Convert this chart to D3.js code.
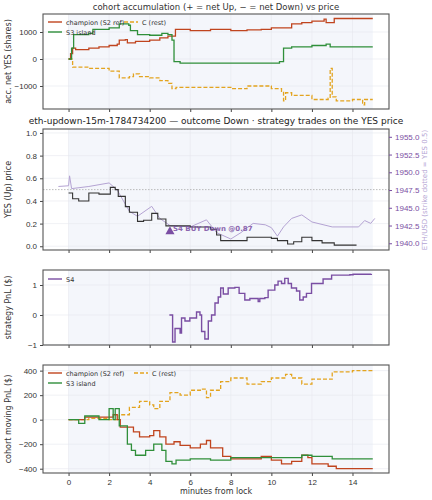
<!DOCTYPE html><html><head><meta charset="utf-8">
<script src="https://cdn.jsdelivr.net/npm/d3@7"></script>
<style>body{margin:0;background:#fff}svg{font-family:"DejaVu Sans",sans-serif}</style></head><body>
<svg id="c" width="432" height="500"></svg>
<script>
const xTicks=[0,2,4,6,8,10,12,14];
const accChampion=[[0,0],[0.1,200],[0.2,400],[0.35,350],[1,400],[1.5,450],[2,500],[2.4,550],[2.5,700],[2.8,720],[2.9,600],[3.3,650],[4,700],[4.5,780],[4.9,850],[5.27,1100],[6,1050],[7,1100],[8,1050],[8.8,1080],[9.5,1100],[10,1150],[11,1300],[11.5,1350],[12,1400],[12.6,1480],[12.7,1350],[13.1,1500],[15,1500]];
const accS3=[[0,0],[0.15,400],[0.25,900],[1,950],[1.2,1100],[2,1150],[2.5,1300],[2.97,1250],[3.05,1050],[3.4,900],[4,880],[4.6,950],[4.9,900],[5.1,700],[5.2,-100],[5.5,-150],[7,-150],[9,-150],[10.4,-100],[10.6,400],[11,450],[12,500],[12.7,550],[12.9,450],[15,450]];
const accC=[[0,0],[0.2,-300],[1,-350],[2,-450],[2.5,-700],[3,-650],[3.2,-550],[3.5,-650],[4,-700],[4.5,-800],[4.9,-900],[5.1,-1100],[5.3,-1050],[7,-1050],[8,-1100],[8.8,-1000],[10,-1100],[10.5,-1200],[10.6,-1550],[10.7,-1250],[11,-1350],[12,-1500],[12.8,-1450],[12.9,-350],[13,-1400],[13.2,-1550],[14,-1500],[14.5,-1700],[14.6,-1500],[15,-1500]];
const yesPrice=[[0,0.47],[0.2,0.42],[0.5,0.40],[1,0.47],[1.5,0.46],[2.06,0.52],[2.3,0.50],[2.45,0.44],[2.8,0.35],[3,0.30],[3.4,0.22],[3.7,0.23],[4.1,0.29],[4.4,0.24],[4.8,0.18],[5.2,0.18],[6,0.17],[7,0.15],[7.3,0.10],[7.5,0.05],[8.5,0.05],[8.8,0.08],[10,0.07],[10.3,0.05],[10.8,0.02],[11.1,0.04],[11.5,0.08],[12,0.05],[12.5,0.03],[13.1,0.01],[14.2,0.01]];
const ethUsd=[[-0.5,1948],[0,1948.1],[0.05,1949.5],[0.15,1947.7],[1,1948],[2,1948.5],[2.4,1947.5],[3,1944.5],[3.4,1943.8],[4.1,1945.2],[4.5,1943.5],[5,1942.5],[6,1942.3],[6.8,1943.3],[7.3,1941.5],[8,1940.6],[8.5,1941.5],[9.1,1942.8],[9.7,1942.6],[10,1942.2],[10.3,1941],[10.6,1942.3],[11,1943.5],[11.5,1944],[12,1943],[13,1942.3],[14.3,1942.3],[14.6,1943.2],[14.9,1942.8],[15.1,1943.5]];
const trades=[{t:5.0,p:0.13,label:"S4 BUY Down @0.87"}];
const pnlS4=[[4.97,0],[5.13,-0.9],[5.25,-0.45],[5.5,-0.6],[5.57,-0.1],[5.74,-0.2],[5.98,-0.1],[6.31,0.1],[6.48,0],[6.56,-0.55],[6.72,-0.8],[6.89,-0.2],[7.05,0],[7.22,0.4],[7.38,0.6],[7.5,0.9],[7.63,0.7],[7.87,0.9],[8.2,0.92],[8.41,0.72],[8.69,0.5],[8.94,0.55],[9.35,0.45],[9.43,0.55],[9.68,0.58],[9.84,0.83],[10.17,1.0],[10.33,1.13],[10.5,1.05],[10.66,1.22],[10.83,1.05],[10.99,0.9],[11.24,0.8],[11.4,0.5],[11.57,0.6],[11.73,0.72],[11.98,1.05],[12.55,1.2],[12.97,1.33],[13.87,1.34],[14.03,1.36],[14.93,1.37]];
const pnlChampion=[[0,0],[0.8,20],[2,20],[2.2,40],[2.4,0],[2.55,-60],[3.2,-100],[3.5,-140],[4,-130],[4.2,-90],[4.5,-140],[4.8,-200],[5.2,-180],[5.5,-210],[6,-230],[6.5,-200],[6.8,-170],[7,-230],[7.6,-300],[8,-320],[9.5,-300],[10,-330],[10.5,-360],[11,-340],[11.5,-290],[11.8,-310],[12,-360],[12.8,-380],[13.2,-400],[15,-400]];
const pnlS3=[[0,0],[0.5,-30],[0.8,30],[1.5,0],[2,90],[2.2,0],[2.3,90],[2.5,-50],[2.9,-200],[3.1,-250],[3.3,-290],[3.8,-250],[4.2,-200],[4.6,-250],[4.8,-340],[5.1,-360],[5.3,-330],[6,-320],[7,-330],[8,-310],[10,-310],[11.5,-290],[12,-300],[13,-320],[15,-320]];
const pnlC=[[0,0],[1,10],[2,0],[2.5,40],[3,100],[3.5,150],[4,120],[4.2,90],[4.5,150],[5,220],[5.5,200],[6,240],[6.5,250],[6.8,180],[7,240],[7.5,310],[8,340],[8.8,290],[9.5,310],[10,340],[10.7,370],[11,340],[11.5,290],[12,330],[13,390],[14,400],[15,400]];

const C={ch:"#c0441e",s3:"#2f8f3a",c:"#e3a41f",s4:"#7a4ea3",eth:"#b4a3d3"};
const svg=d3.select("#c");
const L=43,R=389;
const x=d3.scaleLinear().domain([-1.26,15.8]).range([L,R]);
const minus=s=>s.replace("-","−");
function panel(top,bot,dom,ticks,ylabel,showX,fmt){
  const y=d3.scaleLinear().domain(dom).range([bot,top]);
  const g=svg.append("g");
  g.append("rect").attr("x",x(0)).attr("width",x(15)-x(0)).attr("y",top).attr("height",bot-top).attr("fill","#f4f6fb");
  xTicks.forEach(t=>g.append("line").attr("x1",x(t)).attr("x2",x(t)).attr("y1",top).attr("y2",bot).attr("stroke","#e6e8ee").attr("stroke-width",0.6));
  ticks.forEach(t=>g.append("line").attr("x1",L).attr("x2",R).attr("y1",y(t)).attr("y2",y(t)).attr("stroke","#e6e8ee").attr("stroke-width",0.6));
  const ax=g.append("g").attr("transform",`translate(${L},0)`).call(d3.axisLeft(y).tickValues(ticks).tickSize(3).tickFormat(d=>minus(d3.format(fmt)(d))));
  const bx=g.append("g").attr("transform",`translate(0,${bot})`).call(d3.axisBottom(x).tickValues(xTicks).tickSize(3).tickFormat(showX?d3.format("d"):""));
  [ax,bx].forEach(a=>{a.select(".domain").remove();a.selectAll("text").attr("font-size",8).attr("fill","#333");a.selectAll("line").attr("stroke","#444")});
  g.append("text").attr("transform",`translate(11,${(top+bot)/2}) rotate(-90)`).attr("text-anchor","middle").attr("font-size",8).attr("fill","#333").text(ylabel);
  svg.append("rect").attr("x",L).attr("y",top).attr("width",R-L).attr("height",bot-top).attr("fill","none").attr("stroke","#555").attr("stroke-width",1.1);
  return {y,g};
}
function line(g,data,y,color,opts={}){
  const gen=d3.line().x(d=>x(d[0])).y(d=>y(d[1])).curve(opts.linear?d3.curveLinear:d3.curveStepAfter);
  g.append("path").attr("d",gen(data)).attr("fill","none").attr("stroke",color).attr("stroke-width",opts.w||1.3).attr("stroke-dasharray",opts.dash||null);
}
function legend(g,items,x0,y0,cols,colW){
  items.forEach((it,i)=>{const cx=x0+(i%cols?colW:0),cy=y0+Math.floor(i/cols)*10;
    g.append("line").attr("x1",cx).attr("x2",cx+14).attr("y1",cy).attr("y2",cy).attr("stroke",it.c).attr("stroke-width",1.4).attr("stroke-dasharray",it.dash||null);
    g.append("text").attr("x",cx+18).attr("y",cy+2.5).attr("font-size",6.5).attr("fill","#333").text(it.l);});
}
// Panel 1
svg.append("text").attr("x",216).attr("y",10).attr("text-anchor","middle").attr("font-size",8.5).attr("fill","#333").text("cohort accumulation (+ = net Up, − = net Down) vs price");
const p1=panel(14,109,[-1852,1667],[-1000,0,1000],"acc. net YES (shares)",false,"d");
line(p1.g,accC,p1.y,C.c,{dash:"4,2"});line(p1.g,accChampion,p1.y,C.ch);line(p1.g,accS3,p1.y,C.s3);
legend(p1.g,[{l:"champion (S2 ref)",c:C.ch},{l:"C (rest)",c:C.c,dash:"4,2"},{l:"S3 island",c:C.s3}],48,22,2,76);
// Panel 2
svg.append("text").attr("x",216).attr("y",124).attr("text-anchor","middle").attr("font-size",9).attr("font-weight","500").attr("fill","#222").text("eth-updown-15m-1784734200 — outcome Down · strategy trades on the YES price");
const p2=panel(129,250,[-0.033,1.035],[0,0.2,0.4,0.6,0.8,1.0],"YES (Up) price",false,".1f");
const yr=d3.scaleLinear().domain([1939.05,1956.1]).range([250,129]);
const ra=svg.append("g").attr("transform",`translate(${R},0)`).call(d3.axisRight(yr).tickValues([1940,1942.5,1945,1947.5,1950,1952.5,1955]).tickSize(3).tickFormat(d3.format(".1f")));
ra.select(".domain").remove();ra.selectAll("text").attr("font-size",8).attr("fill",C.s4);ra.selectAll("line").attr("stroke",C.s4);
svg.append("text").attr("transform",`translate(427,190) rotate(-90)`).attr("text-anchor","middle").attr("font-size",7).attr("fill",C.eth).text("ETH/USD (strike dotted = YES 0.5)");
p2.g.append("line").attr("x1",L).attr("x2",R).attr("y1",p2.y(0.5)).attr("y2",p2.y(0.5)).attr("stroke","#aaa").attr("stroke-width",0.8).attr("stroke-dasharray","1.5,1.5");
line(p2.g,ethUsd,yr,C.eth,{linear:true,w:1});
line(p2.g,yesPrice,p2.y,"#333",{w:1.1});
trades.forEach(d=>{p2.g.append("path").attr("d",d3.symbol(d3.symbolTriangle,36)()).attr("transform",`translate(${x(d.t)},${p2.y(d.p)})`).attr("fill",C.s4);
 p2.g.append("text").attr("x",x(d.t)+3).attr("y",p2.y(d.p)-1).attr("font-size",7).attr("font-weight","bold").attr("fill",C.s4).attr("opacity",0.85).text(d.label);});
// Panel 3
const p3=panel(270,345,[-1,1.5],[-1,0,1],"strategy PnL ($)",false,"d");
line(p3.g,pnlS4,p3.y,C.s4,{w:1.4});
legend(p3.g,[{l:"S4",c:C.s4}],48,279,1,0);
// Panel 4
const p4=panel(365,473,[-435,446],[-400,-200,0,200,400],"cohort moving PnL ($)",true,"d");
line(p4.g,pnlC,p4.y,C.c,{dash:"4,2"});line(p4.g,pnlChampion,p4.y,C.ch);line(p4.g,pnlS3,p4.y,C.s3);
legend(p4.g,[{l:"champion (S2 ref)",c:C.ch},{l:"C (rest)",c:C.c,dash:"4,2"},{l:"S3 island",c:C.s3}],48,373,2,86);
svg.append("text").attr("x",216).attr("y",494).attr("text-anchor","middle").attr("font-size",8).attr("fill","#333").text("minutes from lock");
</script></body></html>
